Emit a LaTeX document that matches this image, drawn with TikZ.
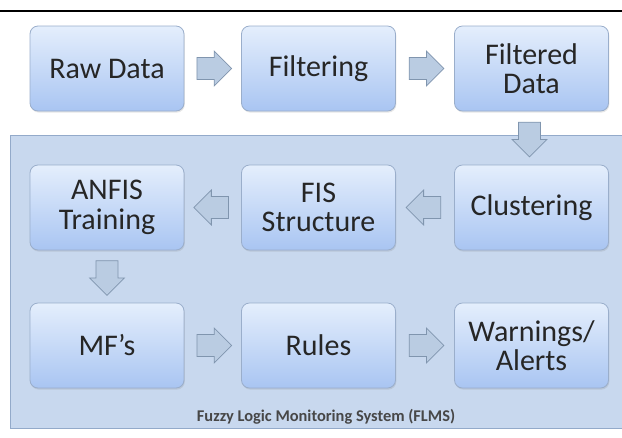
\documentclass[tikz,border=0pt]{standalone}
\usepackage{fontspec}
\setmainfont{Carlito}
\usetikzlibrary{shapes.arrows,shadows,calc}

\definecolor{boxtop}{HTML}{E4EEFC}
\definecolor{boxbot}{HTML}{A9C5F2}
\definecolor{boxline}{HTML}{9AAECB}
\definecolor{panelfill}{HTML}{C8D8EE}
\definecolor{panelline}{HTML}{93AACA}
\definecolor{arrowfill}{HTML}{BACCE2}
\definecolor{arrowline}{HTML}{8095AE}
\definecolor{textgray}{HTML}{262626}

\tikzset{
    stagebox/.style={draw=boxline, line width=0.6pt, rounded corners=6pt,
        top color=boxtop, bottom color=boxbot,
        drop shadow={opacity=0.2, shadow xshift=0.6pt, shadow yshift=-1.2pt},
        minimum width=115.5pt, minimum height=63.75pt, align=center,
        text=textgray, font=\fontsize{22.5}{22}\selectfont},
    flowarrow/.style={single arrow, draw=arrowline, fill=arrowfill, line width=0.6pt,
        inner sep=0pt, text height=16pt, text depth=0pt, text width=0pt,
        minimum height=26pt, single arrow head extend=4.8pt}
}

\begin{document}
\begin{tikzpicture}[x=0.75pt, y=-0.75pt]

    % Fix the page to the picture size
    \useasboundingbox (0,0) rectangle (622,437);

    % Black rule along the top
    \draw[line width=1.6pt] (0,11) -- (622,11);

    % Panel of the monitoring system
    \draw[fill=panelfill, draw=panelline, line width=0.6pt] (10,135) rectangle (623,428);
    \node[font=\fontsize{12.3}{14}\selectfont\bfseries, text=textgray!85] (flms) at (326,417)
        {Fuzzy Logic Monitoring System (FLMS)};

    % First row: data preparation
    \node[stagebox] (raw) at (107,68.5) {Raw Data};
    \node[stagebox] (filt) at (318.5,68.5) {Filtering};
    \node[stagebox] (fdata) at (531.5,68.5) {Filtered\\Data};

    % Second row
    \node[stagebox] (anfis) at (107,207.5) {ANFIS\\Training};
    \node[stagebox] (fis) at (318.5,207.5) {FIS\\Structure};
    \node[stagebox] (clust) at (531.5,207.5) {Clustering};

    % Third row
    \node[stagebox] (mfs) at (107,345.5) {MF’s};
    \node[stagebox] (rules) at (318.5,345.5) {Rules};
    \node[stagebox] (warn) at (531.5,345.5) {Warnings/\\Alerts};

    % Block arrows between the stages
    % (the arrow node sits a little towards its tip, so pull it back by 4px)
    \node[flowarrow] (a1) at ($(raw.east)!0.5!(filt.west)+(-4,0)$) {};
    \node[flowarrow] (a2) at ($(filt.east)!0.5!(fdata.west)+(-4,0)$) {};
    \node[flowarrow, rotate=-90] (a3) at ($(fdata.south)!0.5!(clust.north)+(-2,-4)$) {};
    \node[flowarrow, rotate=180] (a4) at ($(clust.west)!0.5!(fis.east)+(4,0)$) {};
    \node[flowarrow, rotate=180] (a5) at ($(fis.west)!0.5!(anfis.east)+(4,0)$) {};
    \node[flowarrow, rotate=-90] (a6) at ($(anfis.south)!0.5!(mfs.north)+(0,-4)$) {};
    \node[flowarrow] (a7) at ($(mfs.east)!0.5!(rules.west)+(-4,0)$) {};
    \node[flowarrow] (a8) at ($(rules.east)!0.5!(warn.west)+(-4,0)$) {};

\end{tikzpicture}
\end{document}
